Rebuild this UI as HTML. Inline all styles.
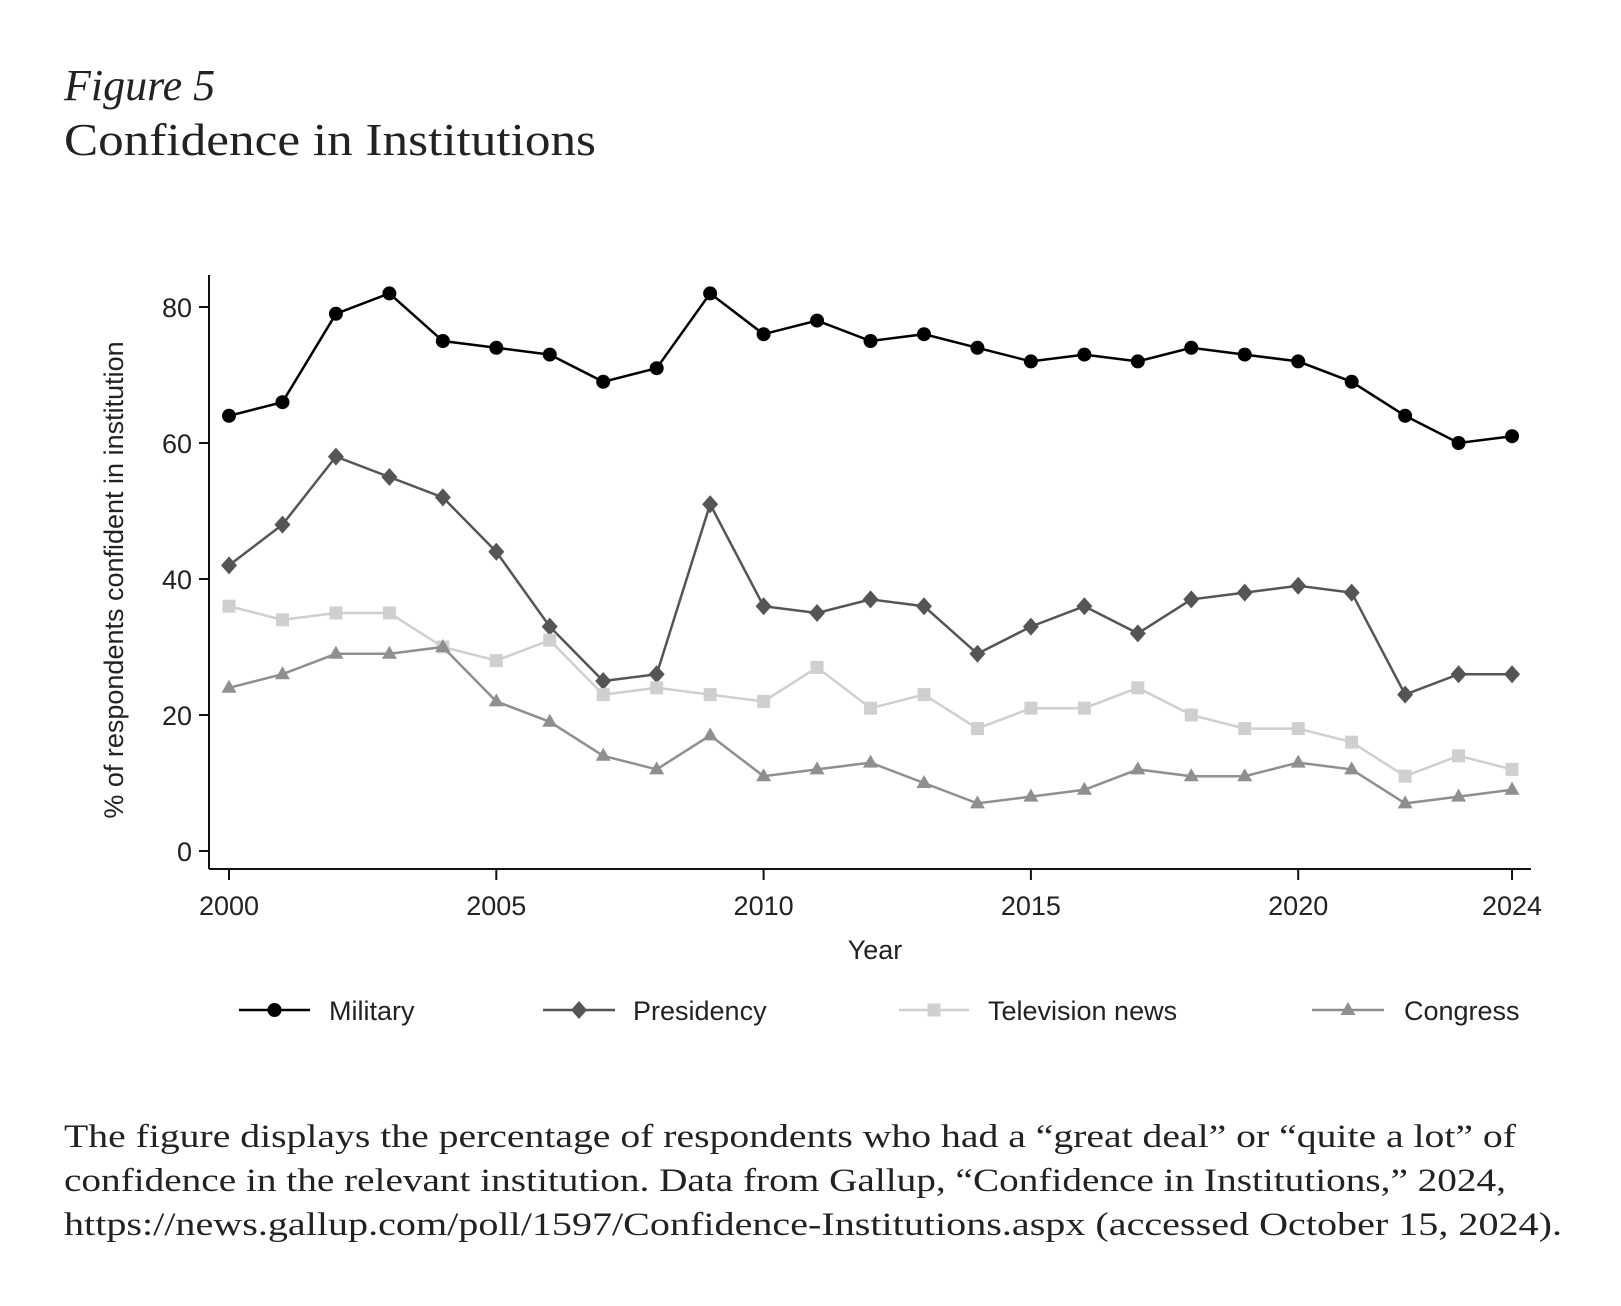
<!DOCTYPE html>
<html><head><meta charset="utf-8"><style>
body{margin:0;background:#fff;width:1621px;height:1306px;overflow:hidden}
svg{display:block}
</style></head><body>
<svg id="s" width="1621" height="1306" xmlns="http://www.w3.org/2000/svg">
<text x="64" y="100" font-family="Liberation Serif, serif" font-style="italic" font-size="44" fill="#222">Figure 5</text>
<text x="64" y="155" font-family="Liberation Serif, serif" font-size="46" fill="#222" textLength="532" lengthAdjust="spacingAndGlyphs">Confidence in Institutions</text>
<g font-family="Liberation Serif, serif" font-size="33" fill="#222">
<text x="64" y="1147" textLength="1452" lengthAdjust="spacingAndGlyphs">The figure displays the percentage of respondents who had a “great deal” or “quite a lot” of</text>
<text x="64" y="1191" textLength="1442" lengthAdjust="spacingAndGlyphs">confidence in the relevant institution. Data from Gallup, “Confidence in Institutions,” 2024,</text>
<text x="64" y="1235" textLength="1498" lengthAdjust="spacingAndGlyphs">https://news.gallup.com/poll/1597/Confidence-Institutions.aspx (accessed October 15, 2024).</text>
</g>
<g id="plot"></g>
</svg>
<script>
const g=document.getElementById('plot');const NS='http://www.w3.org/2000/svg';
function el(t,a,txt){const e=document.createElementNS(NS,t);for(const k in a)e.setAttribute(k,a[k]);if(txt)e.textContent=txt;g.appendChild(e);return e;}
const X=y=>229+(y-2000)*53.46, Y=v=>851-v*6.8;
el('line',{x1:209,y1:275,x2:209,y2:869,stroke:'#111','stroke-width':2});
el('line',{x1:209,y1:869,x2:1531,y2:869,stroke:'#111','stroke-width':2});
const F='Liberation Sans, Arial, sans-serif';
[0,20,40,60,80].forEach(v=>{el('line',{x1:199,y1:Y(v),x2:209,y2:Y(v),stroke:'#111','stroke-width':2});el('text',{x:192,y:Y(v)+10,'text-anchor':'end','font-family':F,'font-size':27,fill:'#222'},String(v));});
[2000,2005,2010,2015,2020,2024].forEach(v=>{el('line',{x1:X(v),y1:869,x2:X(v),y2:880,stroke:'#111','stroke-width':2});el('text',{x:X(v),y:915,'text-anchor':'middle','font-family':F,'font-size':27,fill:'#222'},String(v));});
el('text',{x:875,y:959,'text-anchor':'middle','font-family':F,'font-size':27,fill:'#222'},'Year');
el('text',{x:0,y:0,transform:'translate(123,580) rotate(-90)','text-anchor':'middle','font-family':F,'font-size':27,fill:'#222'},'% of respondents confident in institution');
const S=[
['Military','#000','c',[64,66,79,82,75,74,73,69,71,82,76,78,75,76,74,72,73,72,74,73,72,69,64,60,61]],
['Presidency','#555','d',[42,48,58,55,52,44,33,25,26,51,36,35,37,36,29,33,36,32,37,38,39,38,23,26,26]],
['Television news','#cfcfcf','s',[36,34,35,35,30,28,31,23,24,23,22,27,21,23,18,21,21,24,20,18,18,16,11,14,12]],
['Congress','#8f8f8f','t',[24,26,29,29,30,22,19,14,12,17,11,12,13,10,7,8,9,12,11,11,13,12,7,8,9]]];
function mk(x,y,m,c){if(m=='c')el('circle',{cx:x,cy:y,r:7,fill:c});
else if(m=='d')el('polygon',{points:`${x},${y-9} ${x+8},${y} ${x},${y+9} ${x-8},${y}`,fill:c});
else if(m=='s')el('rect',{x:x-6.5,y:y-6.5,width:13,height:13,fill:c});
else el('polygon',{points:`${x},${y-8} ${x+7.5},${y+5} ${x-7.5},${y+5}`,fill:c});}
const LX=[[239,310,329],[543,615,633],[899,969,988],[1312,1384,1404]];
const LY=1010;
S.forEach((s,i)=>{const pts=s[3].map((v,j)=>X(2000+j)+','+Y(v)).join(' ');
el('polyline',{points:pts,fill:'none',stroke:s[1],'stroke-width':2.5});
s[3].forEach((v,j)=>mk(X(2000+j),Y(v),s[2],s[1]));
const l=LX[i];el('line',{x1:l[0],y1:LY,x2:l[1],y2:LY,stroke:s[1],'stroke-width':2.5});mk((l[0]+l[1])/2,LY,s[2],s[1]);
el('text',{x:l[2],y:LY+10,'font-family':F,'font-size':27,fill:'#222'},s[0]);});
</script>
</body></html>
